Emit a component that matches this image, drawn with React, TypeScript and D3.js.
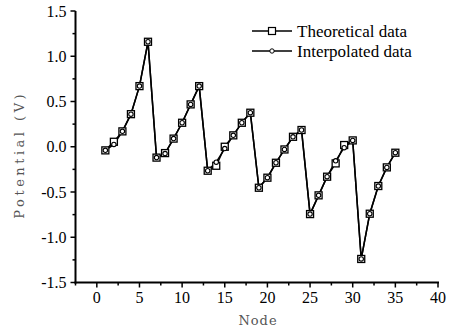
import React from "react";
import * as d3 from "d3";

const nodes = Array.from({ length: 35 }, (_, i) => i + 1);
const theoretical = [
  -0.04, 0.055, 0.17, 0.36, 0.67, 1.16,
  -0.12, -0.07, 0.09, 0.265, 0.468, 0.67,
  -0.265, -0.21, 0.0, 0.126, 0.265, 0.376,
  -0.453, -0.342, -0.177, -0.03, 0.11, 0.185,
  -0.744, -0.537, -0.331, -0.184, 0.019, 0.07,
  -1.24, -0.74, -0.434, -0.228, -0.066,
];
const interpolated = [
  -0.04, 0.026, 0.17, 0.36, 0.67, 1.16,
  -0.12, -0.075, 0.09, 0.265, 0.468, 0.67,
  -0.265, -0.17, -0.02, 0.126, 0.265, 0.376,
  -0.453, -0.342, -0.177, -0.03, 0.11, 0.185,
  -0.744, -0.537, -0.331, -0.155, -0.01, 0.07,
  -1.24, -0.74, -0.434, -0.228, -0.066,
];
const xTicks = [0, 5, 10, 15, 20, 25, 30, 35, 40];
const yTicks = [-1.5, -1.0, -0.5, 0.0, 0.5, 1.0, 1.5];
const legendLabels = ["Theoretical data", "Interpolated data"];

export default function App() {
  const W = 450, H = 333;
  const x = d3.scaleLinear().domain([-2.5, 40]).range([75.5, 438]);
  const y = d3.scaleLinear().domain([-1.5, 1.5]).range([282.5, 11]);
  const xMinor = d3.range(-2.5, 40.01, 2.5).filter((v) => !xTicks.includes(v));
  const yMinor = d3.range(-1.25, 1.5, 0.5);
  const line = d3.line<number>().x((_, i) => x(nodes[i])).y((d) => y(d));
  const font = "Liberation Serif";
  const titleFont = "DejaVu Serif";
  return (
    <svg width={W} height={H} style={{ position: "absolute", left: 0, top: 0, background: "#fff" }}>
      <line x1={x(-2.5)} x2={x(-2.5)} y1={y(1.5)} y2={y(-1.5) + 1} stroke="#000" strokeWidth={2} />
      <line x1={x(-2.5) - 1} x2={x(40) + 1} y1={y(-1.5)} y2={y(-1.5)} stroke="#000" strokeWidth={2} />
      {xTicks.map((t) => (
        <g key={"xt" + t}>
          <line x1={x(t)} x2={x(t)} y1={y(-1.5)} y2={y(-1.5) + 5} stroke="#000" strokeWidth={1.5} />
          <text x={x(t)} y={y(-1.5) + 20} textAnchor="middle" fontFamily={font} fontSize={16} fill="#000">{t}</text>
        </g>
      ))}
      {xMinor.map((t) => (
        <line key={"xm" + t} x1={x(t)} x2={x(t)} y1={y(-1.5)} y2={y(-1.5) + 3} stroke="#000" strokeWidth={1.5} />
      ))}
      {yTicks.map((t) => (
        <g key={"yt" + t}>
          <line x1={x(-2.5) - 5} x2={x(-2.5)} y1={y(t)} y2={y(t)} stroke="#000" strokeWidth={1.5} />
          <text x={x(-2.5) - 9} y={y(t) + 5.5} textAnchor="end" fontFamily={font} fontSize={16} fill="#000">{t.toFixed(1)}</text>
        </g>
      ))}
      {yMinor.map((t) => (
        <line key={"ym" + t} x1={x(-2.5) - 3} x2={x(-2.5)} y1={y(t)} y2={y(t)} stroke="#000" strokeWidth={1.5} />
      ))}
      <text x={258} y={325} textAnchor="middle" fontFamily={titleFont} fontSize={13} fill="#555" letterSpacing={1}>Node</text>
      <text transform={`translate(24,${y(0) + 8}) rotate(-90)`} textAnchor="middle" fontFamily={titleFont} fontSize={13} fill="#555" letterSpacing={3.5}>Potential (V)</text>
      <path d={line(theoretical) || ""} fill="none" stroke="#000" strokeWidth={1.5} />
      <path d={line(interpolated) || ""} fill="none" stroke="#000" strokeWidth={1.5} />
      {theoretical.map((v, i) => (
        <rect key={"s" + i} x={x(nodes[i]) - 3.5} y={y(v) - 3.5} width={7} height={7} fill="#fff" stroke="#000" strokeWidth={1.3} />
      ))}
      {interpolated.map((v, i) => (
        <circle key={"c" + i} cx={x(nodes[i])} cy={y(v)} r={2.2} fill="#fff" stroke="#000" strokeWidth={1.1} />
      ))}
      {legendLabels.map((lab, i) => {
        const ly = 31 + i * 20;
        return (
          <g key={lab}>
            <line x1={252} x2={292} y1={ly} y2={ly} stroke="#000" strokeWidth={1.5} />
            {i === 0 ? (
              <rect x={268.5} y={ly - 3.5} width={7} height={7} fill="#fff" stroke="#000" strokeWidth={1.2} />
            ) : (
              <circle cx={272} cy={ly} r={2.2} fill="#fff" stroke="#000" strokeWidth={1} />
            )}
            <text x={297} y={ly + 5.5} fontFamily={font} fontSize={17} fill="#000">{lab}</text>
          </g>
        );
      })}
    </svg>
  );
}
